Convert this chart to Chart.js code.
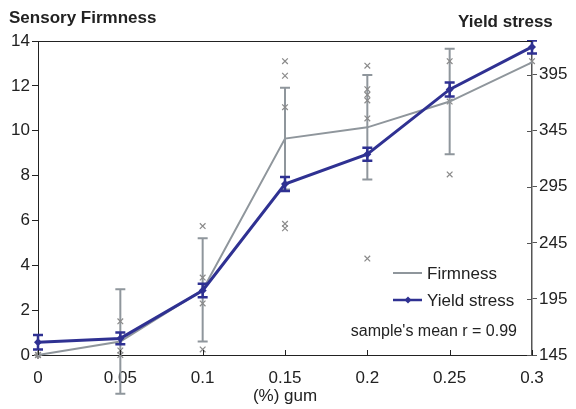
<!DOCTYPE html>
<html>
<head>
<meta charset="utf-8">
<script src="https://cdn.jsdelivr.net/npm/chart.js@4.4.0/dist/chart.umd.min.js"></script>
<style>
  html, body { margin: 0; padding: 0; background: #fff; }
</style>
</head>
<body>
<canvas id="chart" width="576" height="409"></canvas>
<script>
// gum level (%), x axis
const gum = [0, 0.05, 0.1, 0.15, 0.2, 0.25, 0.3];
const gumLabels = ['0', '0.05', '0.1', '0.15', '0.2', '0.25', '0.3'];

// sensory firmness (left axis), mean and sd
const firmness = [0, 0.6, 2.9, 9.65, 10.15, 11.3, 13.05];
const firmnessSd = [0, 2.33, 2.3, 2.27, 2.33, 2.35, 0];

// single panel scores per gum level
const panelScores = [
  [0, 0, 0],
  [1.5, 0.2, 0],
  [5.75, 3.45, 2.3, 0.25],
  [13.1, 12.45, 11.05, 5.85, 5.65],
  [12.9, 11.85, 11.6, 11.35, 10.55, 4.3],
  [13.1, 11.3, 8.05],
  [13.1]
];

// yield stress (right axis), mean and error
const yieldStress = [156.4, 159.8, 202.5, 297.5, 324, 381.8, 419.7];
const yieldErr = [6.4, 5.3, 6, 6.2, 5.8, 6.3, 5.8];

const firmTicks = [0, 2, 4, 6, 8, 10, 12, 14];
const yieldTicks = [145, 195, 245, 295, 345, 395];

const GREY = '#8f969c';
const BLUE = '#2f3192';
const FONT = '"Liberation Sans", Arial, sans-serif';

function drawErrorBars(chart, values, errs, axisId, color, width) {
  const ctx = chart.ctx;
  const xs = chart.scales.x;
  const ys = chart.scales[axisId];
  const a = chart.chartArea;
  ctx.save();
  ctx.beginPath();
  ctx.rect(0, a.top - 1, chart.width, chart.height);
  ctx.clip();
  ctx.strokeStyle = color;
  ctx.lineWidth = width;
  values.forEach((v, i) => {
    if (!errs[i]) return;
    const x = xs.getPixelForValue(gum[i]);
    const y1 = ys.getPixelForValue(v + errs[i]);
    const y2 = ys.getPixelForValue(v - errs[i]);
    ctx.beginPath();
    ctx.moveTo(x, y1); ctx.lineTo(x, y2);
    ctx.moveTo(x - 5, y1); ctx.lineTo(x + 5, y1);
    ctx.moveTo(x - 5, y2); ctx.lineTo(x + 5, y2);
    ctx.stroke();
  });
  ctx.restore();
}

const extras = {
  id: 'extras',
  beforeDatasetsDraw(chart) {
    drawErrorBars(chart, firmness, firmnessSd, 'y', GREY, 2);
  },
  afterDatasetsDraw(chart) {
    drawErrorBars(chart, yieldStress, yieldErr, 'y2', BLUE, 2.5);
  },
  afterDraw(chart) {
    const ctx = chart.ctx;
    const a = chart.chartArea;
    ctx.save();
    // top frame line
    ctx.strokeStyle = '#222';
    ctx.lineWidth = 1;
    ctx.beginPath();
    ctx.moveTo(a.left, a.top + 0.5); ctx.lineTo(a.right, a.top + 0.5);
    ctx.stroke();
    // inner x ticks
    gum.forEach(g => {
      const x = Math.round(chart.scales.x.getPixelForValue(g)) + 0.5;
      ctx.beginPath();
      ctx.moveTo(x, a.bottom); ctx.lineTo(x, a.bottom - 5);
      ctx.stroke();
    });
    // inner half of right axis ticks
    ctx.strokeStyle = '#555';
    yieldTicks.forEach(t => {
      const y = Math.round(chart.scales.y2.getPixelForValue(t)) + 0.5;
      ctx.beginPath();
      ctx.moveTo(a.right - 5, y); ctx.lineTo(a.right, y);
      ctx.stroke();
    });

    // axis titles
    ctx.fillStyle = '#222';
    ctx.font = 'bold 17px ' + FONT;
    ctx.textBaseline = 'middle';
    ctx.textAlign = 'left';
    ctx.fillText('Sensory Firmness', 9, 18);
    ctx.fillText('Yield stress', 458, 22);

    // legend
    ctx.font = '17px ' + FONT;
    ctx.lineWidth = 2;
    ctx.strokeStyle = GREY;
    ctx.beginPath();
    ctx.moveTo(393, 273); ctx.lineTo(422, 273);
    ctx.stroke();
    ctx.fillText('Firmness', 427, 274);
    ctx.strokeStyle = BLUE;
    ctx.lineWidth = 2.5;
    ctx.beginPath();
    ctx.moveTo(393, 300); ctx.lineTo(422, 300);
    ctx.stroke();
    ctx.fillStyle = BLUE;
    ctx.beginPath();
    ctx.moveTo(408, 296.5); ctx.lineTo(411.5, 300); ctx.lineTo(408, 303.5); ctx.lineTo(404.5, 300);
    ctx.closePath();
    ctx.fill();
    ctx.fillStyle = '#222';
    ctx.fillText('Yield stress', 427, 301);
    ctx.font = '16px ' + FONT;
    ctx.textAlign = 'right';
    ctx.fillText("sample's mean r = 0.99", 517, 332);
    ctx.restore();
  }
};

new Chart(document.getElementById('chart'), {
  type: 'line',
  data: {
    datasets: [
      {
        label: 'Yield stress',
        data: gum.map((g, i) => ({ x: g, y: yieldStress[i] })),
        yAxisID: 'y2',
        borderColor: BLUE,
        backgroundColor: BLUE,
        borderWidth: 3,
        pointStyle: 'rectRot',
        pointRadius: 4,
        pointBorderWidth: 0,
        tension: 0,
        clip: false,
        order: 0
      },
      {
        label: 'Firmness',
        data: gum.map((g, i) => ({ x: g, y: firmness[i] })),
        yAxisID: 'y',
        borderColor: GREY,
        backgroundColor: GREY,
        borderWidth: 2,
        pointRadius: 0,
        tension: 0,
        clip: false,
        order: 1
      },
      {
        type: 'scatter',
        label: 'panel',
        data: panelScores.flatMap((arr, i) => arr.map(v => ({ x: gum[i], y: v }))),
        yAxisID: 'y',
        borderColor: '#8a8a8a',
        backgroundColor: '#8a8a8a',
        borderWidth: 1.2,
        pointStyle: ctx => (ctx.raw && ctx.raw.x === 0 ? 'star' : 'crossRot'),
        pointRadius: 4,
        clip: false,
        order: 2
      }
    ]
  },
  options: {
    responsive: false,
    animation: false,
    events: [],
    layout: { padding: { top: 41, left: 0, right: 0, bottom: 0 } },
    plugins: {
      legend: { display: false },
      tooltip: { enabled: false }
    },
    scales: {
      x: {
        type: 'linear',
        min: 0,
        max: 0.3,
        afterFit: s => { s.height = 54; },
        afterBuildTicks: s => { s.ticks = gum.map(v => ({ value: v })); },
        grid: { drawOnChartArea: false, drawTicks: false },
        border: { color: '#222', width: 1 },
        ticks: {
          padding: 13,
          color: '#222',
          font: { family: FONT, size: 17 },
          callback: (v, i) => gumLabels[i]
        },
        title: {
          display: true,
          text: '(%) gum',
          color: '#222',
          font: { family: FONT, size: 17 },
          padding: { top: 0, bottom: 2 }
        }
      },
      y: {
        position: 'left',
        min: 0,
        max: 14,
        afterFit: s => { s.width = 38; },
        afterBuildTicks: s => { s.ticks = firmTicks.map(v => ({ value: v })); },
        grid: { drawOnChartArea: false, tickLength: 6, color: '#222' },
        border: { color: '#222', width: 1 },
        ticks: {
          padding: 2,
          color: '#222',
          font: { family: FONT, size: 17 }
        }
      },
      y2: {
        position: 'right',
        min: 145,
        max: 425,
        afterFit: s => { s.width = 44; },
        afterBuildTicks: s => { s.ticks = yieldTicks.map(v => ({ value: v })); },
        grid: { drawOnChartArea: false, tickLength: 5, color: '#555' },
        border: { color: '#555', width: 1.5 },
        ticks: {
          padding: 2,
          color: '#222',
          font: { family: FONT, size: 17 }
        }
      }
    }
  },
  plugins: [extras]
});
</script>
</body>
</html>
